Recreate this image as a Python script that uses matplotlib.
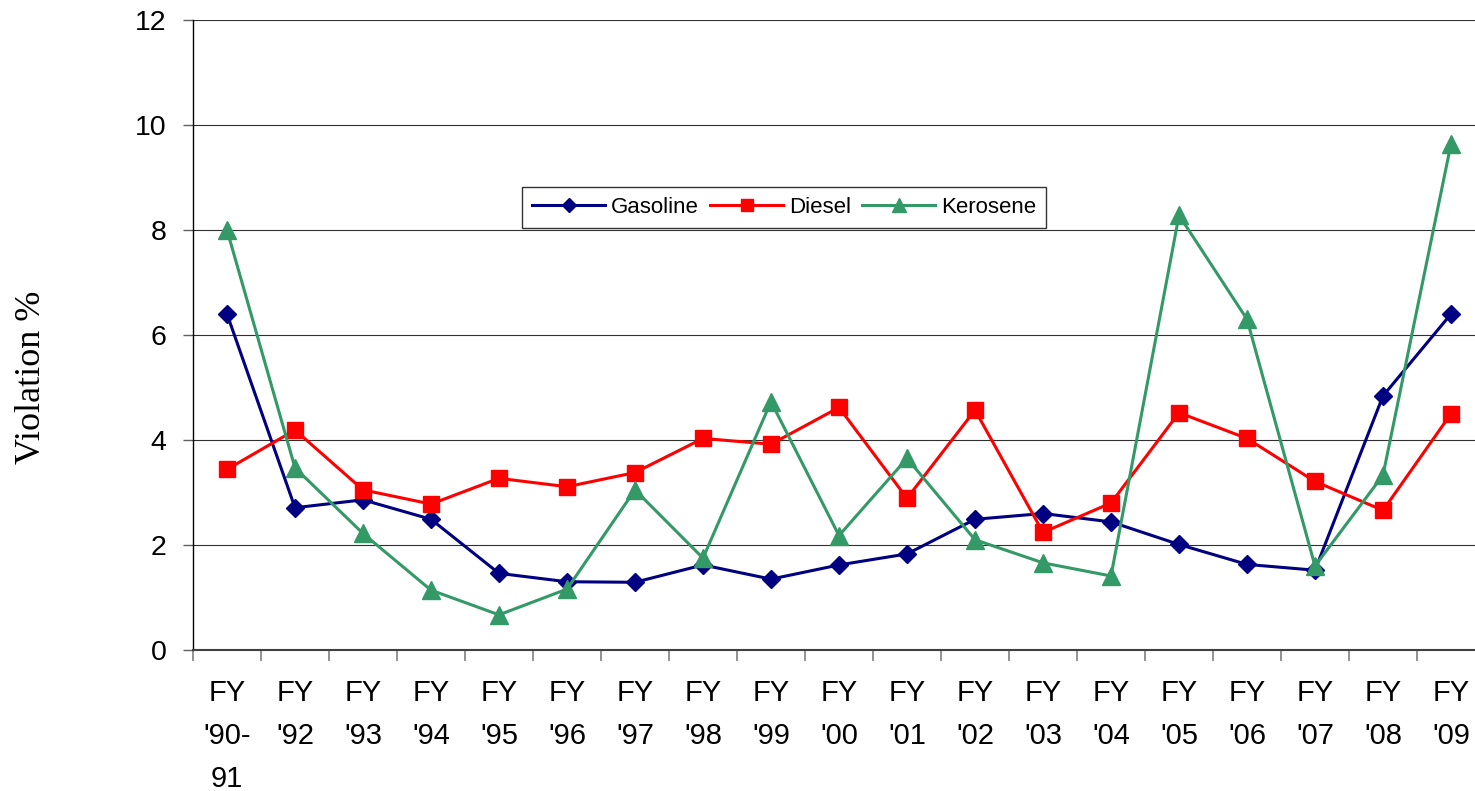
import matplotlib
matplotlib.use("Agg")
import matplotlib.pyplot as plt
import numpy as np

categories = ["FY\n'90-\n91", "FY\n'92", "FY\n'93", "FY\n'94", "FY\n'95", "FY\n'96",
              "FY\n'97", "FY\n'98", "FY\n'99", "FY\n'00", "FY\n'01", "FY\n'02",
              "FY\n'03", "FY\n'04", "FY\n'05", "FY\n'06", "FY\n'07", "FY\n'08", "FY\n'09"]

gasoline = [6.40, 2.71, 2.86, 2.49, 1.46, 1.30, 1.29, 1.62, 1.35, 1.62, 1.83, 2.49,
            2.60, 2.44, 2.01, 1.63, 1.52, 4.84, 6.40]
diesel = [3.44, 4.19, 3.05, 2.78, 3.27, 3.11, 3.38, 4.03, 3.92, 4.62, 2.89, 4.57,
          2.24, 2.80, 4.52, 4.03, 3.21, 2.66, 4.50]
kerosene = [8.00, 3.47, 2.22, 1.14, 0.67, 1.16, 3.05, 1.75, 4.73, 2.18, 3.65, 2.10,
            1.66, 1.41, 8.28, 6.30, 1.60, 3.33, 9.64]

series_names = ["Gasoline", "Diesel", "Kerosene"]
yticks = [0, 2, 4, 6, 8, 10, 12]

W, H = 1475, 791
fig = plt.figure(figsize=(W / 100, H / 100), dpi=100)
ax = fig.add_axes([193 / W, 141 / H, 1292 / W, 630 / H])

x = np.arange(len(categories))
ax.plot(x, gasoline, color="#000080", lw=2.2, marker="D", ms=9.5, mec="#000080",
        mfc="#000080", label=series_names[0], zorder=3)
ax.plot(x, diesel, color="#FF0000", lw=2.2, marker="s", ms=11.5, mec="#FF0000",
        mfc="#FF0000", label=series_names[1], zorder=3)
ax.plot(x, kerosene, color="#339966", lw=2.2, marker="^", ms=13.5, mec="#339966",
        mfc="#339966", label=series_names[2], zorder=3)

ax.set_xlim(-0.5, len(categories) - 0.5)
ax.set_ylim(0, 12)
ax.set_yticks(yticks)
ax.set_yticklabels([str(v) for v in yticks], fontfamily="Liberation Sans", fontsize=20.5)
ax.yaxis.grid(True, color="#303030", lw=0.8)
ax.set_axisbelow(True)
ax.tick_params(axis="y", direction="out", length=7, width=1, color="#606060", pad=12)

ax.set_xticks(x)
ax.set_xticklabels(categories, fontfamily="Liberation Sans", fontsize=21, linespacing=1.68,
                   va="top")
ax.set_xticks(np.arange(-0.5, len(categories) - 0.5, 1.0), minor=True)
ax.tick_params(axis="x", which="major", length=0, pad=21)
ax.tick_params(axis="x", which="minor", direction="out", length=8, width=1.2, color="#808080")

for s in ["top", "right"]:
    ax.spines[s].set_visible(False)
ax.spines["left"].set_color("#000000")
ax.spines["left"].set_linewidth(1.0)
ax.spines["bottom"].set_color("#404040")
ax.spines["bottom"].set_linewidth(1.5)

fig.text(32 / W, 1 - 377 / H, "Violation %", rotation=90, ha="center", va="center",
         fontfamily="Liberation Serif", fontsize=26)

leg = ax.legend(loc="upper left", bbox_to_anchor=((522 - 193) / 1292, (650 - 187) / 630),
                borderaxespad=0, ncol=3, frameon=True, fancybox=False, shadow=False,
                prop={"family": "Liberation Sans", "size": 16}, handlelength=3.3,
                handletextpad=0.25, columnspacing=0.5, borderpad=0.45, markerscale=0.7)
leg.get_frame().set_edgecolor("#000000")
leg.get_frame().set_linewidth(1.0)

fig.savefig("out.png", dpi=100)
